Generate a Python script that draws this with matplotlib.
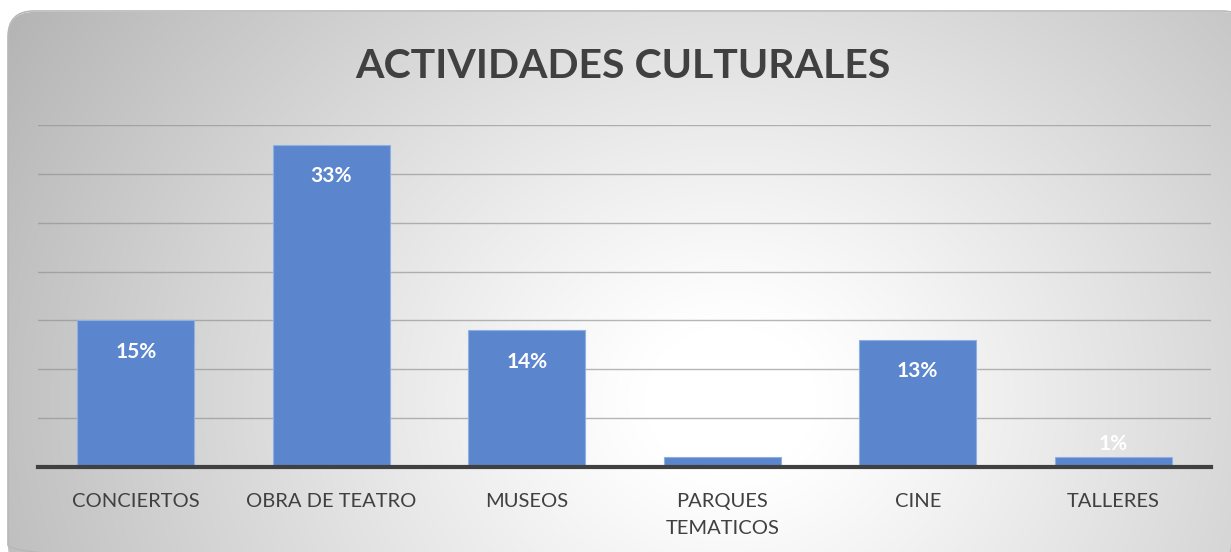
import numpy as np
import matplotlib
matplotlib.use("Agg")
import matplotlib.pyplot as plt
from matplotlib.patches import FancyBboxPatch

categories = ["CONCIERTOS", "OBRA DE TEATRO", "MUSEOS", "PARQUES\nTEMATICOS", "CINE", "TALLERES"]
values = [15, 33, 14, 1, 13, 1]
labels = ["15%", "33%", "14%", "1%", "13%", "1%"]
title = "ACTIVIDADES CULTURALES"

W, H = 1231, 552
fig = plt.figure(figsize=(W / 100, H / 100), dpi=100)
fig.patch.set_facecolor("white")

# background panel with radial gradient
bg = fig.add_axes([0, 0, 1, 1])
bg.set_xlim(0, W)
bg.set_ylim(H, 0)
bg.axis("off")
yy, xx = np.mgrid[0:H, 0:W]
cx, cy = 730, 400
t = np.sqrt(((xx - cx) / 720.0) ** 2 + ((yy - cy) / 620.0) ** 2)
s = np.clip((t - 0.12) / 0.88, 0, 1.2)
val = 1 - 0.24 * s ** 1.1
img = np.dstack([val, val, val])
shadow = FancyBboxPatch((8, 11), 1240, 560, boxstyle="round,pad=0,rounding_size=26",
                        facecolor="none", edgecolor="#b8b8b8", linewidth=1.2, zorder=1)
panel = FancyBboxPatch((8, 12), 1240, 560, boxstyle="round,pad=0,rounding_size=26",
                       facecolor="none", edgecolor="none", zorder=1)
bg.add_patch(panel)
bg.add_patch(shadow)
im = bg.imshow(img, extent=(0, W, H, 0), zorder=0, interpolation="bilinear")
im.set_clip_path(panel)

ax = fig.add_axes([38 / W, 1 - 467 / H, (1211 - 38) / W, (467 - 125) / H])
ax.patch.set_alpha(0)
x = np.arange(len(categories))
ax.bar(x, values, width=0.6, color="#5B86CD", edgecolor="#8FB0E3", linewidth=0.8, zorder=3)
ax.set_xlim(-0.5, len(categories) - 0.5)
ax.set_ylim(0, 35)
ax.set_yticks(np.arange(0, 36, 5))
ax.yaxis.grid(True, color="#909090", linewidth=1.0, alpha=0.65, zorder=0)
ax.set_axisbelow(True)
ax.tick_params(axis="y", left=False, labelleft=False)
ax.tick_params(axis="x", bottom=False, pad=15)
ax.set_xticks(x)
ax.set_xticklabels(categories, fontsize=14.5, color="#404040", family="Lato",
                   linespacing=1.75, va="top")
for sp in ["top", "right", "left"]:
    ax.spines[sp].set_visible(False)
ax.spines["bottom"].set_color("#404040")
ax.spines["bottom"].set_linewidth(3)
ax.spines["bottom"].set_zorder(4)

for xi, v, lab in zip(x, values, labels):
    if v >= 5:
        ax.text(xi, v - 2.2, lab, ha="center", va="top", color="white",
                fontsize=15, fontweight="bold", family="Lato", zorder=5)
    else:
        ax.text(xi, v + 0.75, lab, ha="center", va="baseline", color="white",
                fontsize=15, fontweight="bold", family="Lato", zorder=5)

fig.text(623 / W, 1 - 67 / H, title, ha="center", va="center", fontsize=29.5,
         fontweight="bold", color="#404040", family="Lato")

fig.savefig("out.png", dpi=100)
